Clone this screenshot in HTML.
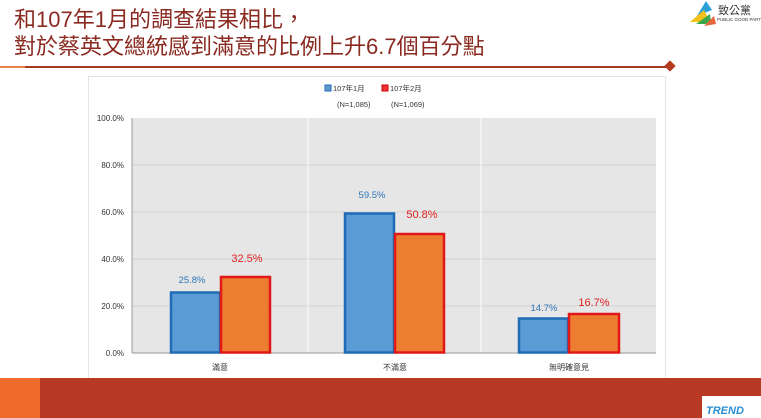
<!DOCTYPE html>
<html><head><meta charset="utf-8"><style>
body{margin:0;width:761px;height:418px;overflow:hidden;background:#fff;font-family:"Liberation Sans","Noto Sans CJK TC",sans-serif;}
</style></head><body>
<svg width="761" height="418" xmlns="http://www.w3.org/2000/svg" style="position:absolute;left:0;top:0">
<text x="14" y="27" font-size="22" fill="#8a2a20" font-family="Liberation Sans,Noto Sans CJK TC,sans-serif">和107年1月的調查結果相比，</text>
<text x="14" y="54" font-size="22" fill="#8a2a20" font-family="Liberation Sans,Noto Sans CJK TC,sans-serif">對於蔡英文總統感到滿意的比例上升6.7個百分點</text>
<line x1="0" y1="67" x2="671" y2="67" stroke="#a33a22" stroke-width="2"/>
<line x1="0" y1="67" x2="25" y2="67" stroke="#e8834a" stroke-width="2"/>
<rect x="666" y="62" width="8" height="8" fill="#b43a20" transform="rotate(45 670 66)"/>
<!-- logo -->
<rect x="688" y="0" width="73" height="27" fill="#fff"/>
<polygon points="697,16 706,1 712,10" fill="#2a9fd8"/>
<polygon points="690,22 704,10 710,22" fill="#f2c21a"/>
<polygon points="696,24 710,14 711,24" fill="#3aa84a"/>
<polygon points="704,26 714,16 716,24" fill="#e8643a"/>
<text x="718" y="14" font-size="11" fill="#333">致公黨</text>
<text x="717" y="21" font-size="4.5" fill="#333">PUBLIC GOOD PARTY</text>
<!-- chart box -->
<rect x="88.5" y="76.5" width="577" height="302" fill="#fff" stroke="#e4e4e4"/>
<rect x="132" y="118" width="524" height="235" fill="#e6e6e6"/>
<g stroke="#d2d2d2" stroke-width="1">
<line x1="132" x2="656" y1="165" y2="165"/><line x1="132" x2="656" y1="212" y2="212"/>
<line x1="132" x2="656" y1="259" y2="259"/><line x1="132" x2="656" y1="306" y2="306"/>
</g>
<line x1="308" x2="308" y1="118" y2="353" stroke="#fff"/>
<line x1="481" x2="481" y1="118" y2="353" stroke="#fff"/>
<line x1="132" x2="132" y1="118" y2="353" stroke="#999"/>
<line x1="132" x2="656" y1="353" y2="353" stroke="#999"/>
<g font-size="8" fill="#333" text-anchor="end">
<text x="124" y="121">100.0%</text><text x="124" y="168">80.0%</text><text x="124" y="215">60.0%</text>
<text x="124" y="262">40.0%</text><text x="124" y="309">20.0%</text><text x="124" y="356">0.0%</text>
</g>
<!-- legend -->
<rect x="325" y="85" width="6" height="6" fill="#5b9bd5" stroke="#1f6bb5"/>
<text x="333" y="91" font-size="7.5" fill="#333">107年1月</text>
<rect x="382" y="85" width="6" height="6" fill="#e33" stroke="#c00"/>
<text x="390" y="91" font-size="7.5" fill="#333">107年2月</text>
<text x="337" y="107" font-size="7.5" fill="#333">(N=1,085)</text>
<text x="391" y="107" font-size="7.5" fill="#333">(N=1,069)</text>
<!-- bars -->
<g stroke-width="2.5">
<rect x="171" y="292.5" width="49" height="60" fill="#5b9bd5" stroke="#1f6bb5"/>
<rect x="221" y="277" width="49" height="75.5" fill="#ed7d31" stroke="#e01818"/>
<rect x="345" y="213.5" width="49" height="139" fill="#5b9bd5" stroke="#1f6bb5"/>
<rect x="395" y="234" width="49" height="118.5" fill="#ed7d31" stroke="#e01818"/>
<rect x="519" y="318.5" width="49" height="34" fill="#5b9bd5" stroke="#1f6bb5"/>
<rect x="569" y="314" width="50" height="38.5" fill="#ed7d31" stroke="#e01818"/>
</g>
<g font-size="9.5" text-anchor="middle">
<text x="192" y="283" fill="#2e75b6">25.8%</text>
<text x="247" y="262" fill="#e02020" font-size="11">32.5%</text>
<text x="372" y="198" fill="#2e75b6">59.5%</text>
<text x="422" y="218" fill="#e02020" font-size="11">50.8%</text>
<text x="544" y="311" fill="#2e75b6">14.7%</text>
<text x="594" y="306" fill="#e02020" font-size="11">16.7%</text>
</g>
<g font-size="8" fill="#333" text-anchor="middle">
<text x="220" y="370">滿意</text><text x="395" y="370">不滿意</text><text x="569" y="370">無明確意見</text>
</g>
<!-- bottom band -->
<rect x="0" y="378" width="761" height="40" fill="#b93a24"/>
<rect x="0" y="378" width="40" height="40" fill="#ef6b2c"/>
<rect x="702" y="396" width="59" height="22" fill="#fff"/>
<text x="706" y="414" font-size="11" font-style="italic" font-weight="bold" fill="#2a8fd0">TREND</text>
</svg>
</body></html>
